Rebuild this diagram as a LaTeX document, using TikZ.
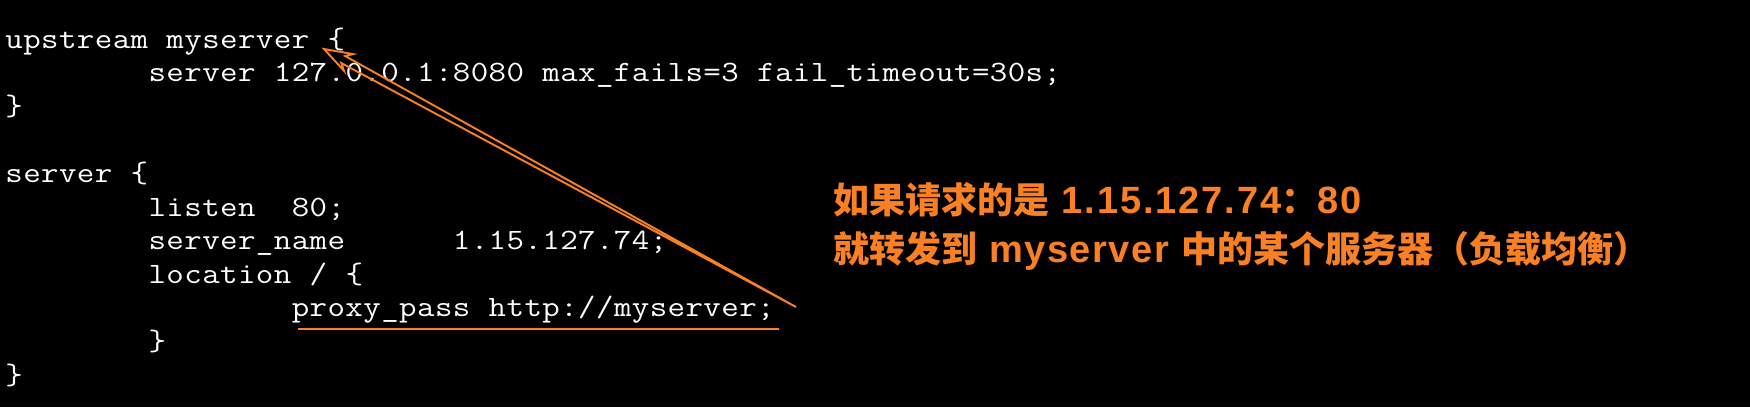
\documentclass[tikz,border=0pt]{standalone}
\usepackage{fontspec}
\setmonofont{Latin Modern Mono}[FakeStretch=1.15]
\newfontfamily\cjk{Noto Sans CJK SC}
\newfontfamily\lat{Liberation Sans}[LetterSpace=4]
\newfontfamily\latd{Liberation Sans}[LetterSpace=5]
\definecolor{ora}{RGB}{250,128,36}
\newlength\cellw
\setlength\cellw{17.9pt}
\newcommand\cellrow[1]{\cellrowi#1\relax}
\def\cellrowi#1{\ifx#1\relax\else\makebox[\cellw][c]{#1}\expandafter\cellrowi\fi}
\newcommand\lt[1]{{\lat\bfseries\fontsize{38}{50}\selectfont #1}}
\newcommand\ltd[1]{{\latd\bfseries\fontsize{38}{50}\selectfont #1}}
\tikzset{
  code/.style={anchor=base west,inner sep=0pt,text=white,font=\ttfamily\fontsize{29.5}{34}\selectfont},
  note/.style={anchor=base west,inner sep=0pt,text=ora,font=\cjk\bfseries\fontsize{36}{50}\selectfont},
  orline/.style={draw=ora,line width=1.9pt}
}
\begin{document}
\begin{tikzpicture}[x=1pt,y=-1pt]
\fill[black] (0,0) rectangle (1750,407);
\useasboundingbox (0,0) rectangle (1750,407);
% code lines (column c -> x = 5 + 17.9 c)
\node[code] (l0) at (5,48) {\cellrow{upstream~myserver~\{}};
\node[code] (l1) at (148.2,81.6) {\cellrow{server~127.0.0.1:8080~max\_fails=3~fail\_timeout=30s;}};
\node[code] (l2) at (5,115.2) {\cellrow{\}}};
\node[code] (l4) at (5,182.4) {\cellrow{server~\{}};
\node[code] (l5) at (148.2,216) {\cellrow{listen~~80;}};
\node[code] (l6) at (148.2,249.6) {\cellrow{server\_name~~~~~~1.15.127.74;}};
\node[code] (l7) at (148.2,283.2) {\cellrow{location~/~\{}};
\node[code] (l8) at (291.4,316.8) {\cellrow{proxy\_pass~http://myserver;}};
\node[code] (l9) at (148.2,350.4) {\cellrow{\}}};
\node[code] (l10) at (5,384) {\cellrow{\}}};
% note
\node[note] (n1) at (833,213) {如果请求的是\ltd{ 1.15.127.74}：\ltd{80}};
\node[note] (n2) at (833,262.5) {就转发到\lt{ myserver }中的某个服务器（负载均衡）};
% underline
\coordinate (u1) at (298,329);
\coordinate (u2) at (779,329);
\draw[orline] (u1) -- (u2);
% hollow tapered arrow
\coordinate (tip) at (324,49);
\coordinate (b1) at (353.1,54.1);
\coordinate (i1) at (345.2,56.1);
\coordinate (tail) at (796,307);
\coordinate (i2) at (341.4,63.1);
\coordinate (b2) at (344.0,70.8);
\draw[orline,line join=miter] (tip) -- (b1) -- (i1) -- (tail) -- (i2) -- (b2) -- cycle;
\end{tikzpicture}
\end{document}
